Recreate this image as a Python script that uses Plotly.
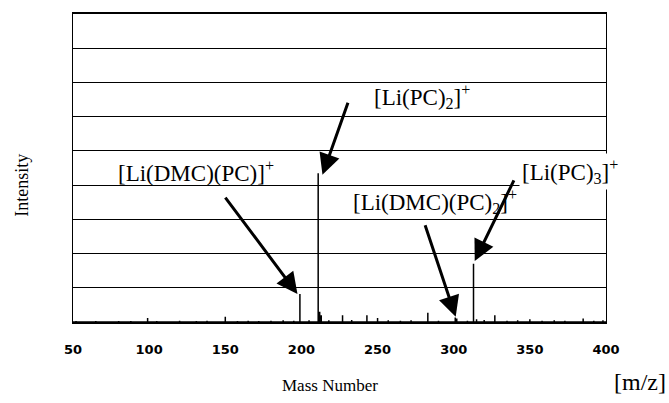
import plotly.graph_objects as go

# Mass spectrum sticks (m/z, relative intensity in grid units)
masses = [52, 58, 65, 72, 80, 88, 99, 105, 113, 120, 131, 138, 150, 158, 165, 172, 180,
          188, 195, 199, 205, 211, 212, 213, 218, 227, 233, 243, 250, 257, 265, 272, 283,
          290, 301, 302, 309, 313, 315, 320, 327, 335, 342, 350, 358, 366, 373, 385, 392, 398]
intensities = [0.03, 0.02, 0.03, 0.02, 0.03, 0.03, 0.12, 0.03, 0.02, 0.04, 0.03, 0.04, 0.15,
               0.03, 0.04, 0.03, 0.04, 0.05, 0.04, 0.82, 0.05, 4.35, 0.30, 0.20, 0.05, 0.20,
               0.06, 0.20, 0.12, 0.05, 0.04, 0.05, 0.27, 0.04, 0.13, 0.10, 0.04, 1.70, 0.08,
               0.06, 0.20, 0.04, 0.05, 0.08, 0.04, 0.05, 0.04, 0.10, 0.04, 0.05]

x_ticks = [50, 100, 150, 200, 250, 300, 350, 400]

# annotation labels: text, label position, arrow tail, arrow head (data coordinates)
labels = ["[Li(DMC)(PC)]<sup>+</sup>", "[Li(PC)<sub>2</sub>]<sup>+</sup>",
          "[Li(DMC)(PC)<sub>2</sub>]<sup>+</sup>", "[Li(PC)<sub>3</sub>]<sup>+</sup>"]
label_x = [130.8, 279.2, 287.7, 376.3]
label_y = [4.39, 6.58, 3.51, 4.39]
tail_x = [149.3, 230.9, 280.9, 340.0]
tail_y = [3.68, 6.45, 2.87, 4.18]
head_x = [197.4, 213.8, 301.3, 313.8]
head_y = [0.82, 4.30, 0.15, 1.78]
label_bg = ["rgba(0,0,0,0)", "rgba(0,0,0,0)", "rgba(0,0,0,0)", "white"]

xs, ys = [50], [0]
for m, h in zip(masses, intensities):
    xs += [m, m, m]
    ys += [0, h, 0]
xs.append(400)
ys.append(0)

fig = go.Figure()
fig.add_trace(go.Scatter(x=xs, y=ys, mode="lines",
                         line=dict(color="black", width=1.5), hoverinfo="skip",
                         showlegend=False))

serif = "Liberation Serif"
for t, lx, ly, bg in zip(labels, label_x, label_y, label_bg):
    fig.add_annotation(x=lx, y=ly, xref="x", yref="y", text=t, showarrow=False,
                       xanchor="center", yanchor="middle", bgcolor=bg, borderpad=2,
                       font=dict(family=serif, size=23, color="black"))
for tx, ty, hx, hy in zip(tail_x, tail_y, head_x, head_y):
    fig.add_annotation(x=hx, y=hy, ax=tx, ay=ty, xref="x", yref="y", axref="x", ayref="y",
                       text="", showarrow=True, arrowhead=2, arrowsize=1.4, arrowwidth=3,
                       arrowcolor="black", standoff=0)
fig.add_annotation(x=-0.096, y=0.445, xref="paper", yref="paper", text="Intensity",
                   textangle=-90, showarrow=False, xanchor="center", yanchor="middle",
                   font=dict(family=serif, size=18, color="black"))
fig.add_annotation(x=0.482, y=-0.205, xref="paper", yref="paper", text="Mass Number",
                   showarrow=False, xanchor="center", yanchor="middle",
                   font=dict(family=serif, size=17, color="black"))
fig.add_annotation(x=1.064, y=-0.195, xref="paper", yref="paper", text="[m/z]",
                   showarrow=False, xanchor="center", yanchor="middle",
                   font=dict(family=serif, size=24, color="black"))

fig.update_layout(
    width=669, height=403,
    margin=dict(l=73, r=63, t=14, b=81),
    paper_bgcolor="white", plot_bgcolor="white",
    xaxis=dict(range=[50, 400], tickvals=x_ticks, ticktext=[str(v) for v in x_ticks],
               showgrid=False, zeroline=False, showline=True, linecolor="black",
               linewidth=2, mirror=True, ticks="outside", ticklen=14, tickcolor="white",
               tickfont=dict(family="DejaVu Sans", size=13, color="black", weight="bold")),
    yaxis=dict(range=[0, 9], dtick=1, showticklabels=False, showgrid=True,
               gridcolor="black", gridwidth=1, zeroline=False, showline=True,
               linecolor="black", linewidth=1, mirror=True),
)
fig.write_html("out.html")
